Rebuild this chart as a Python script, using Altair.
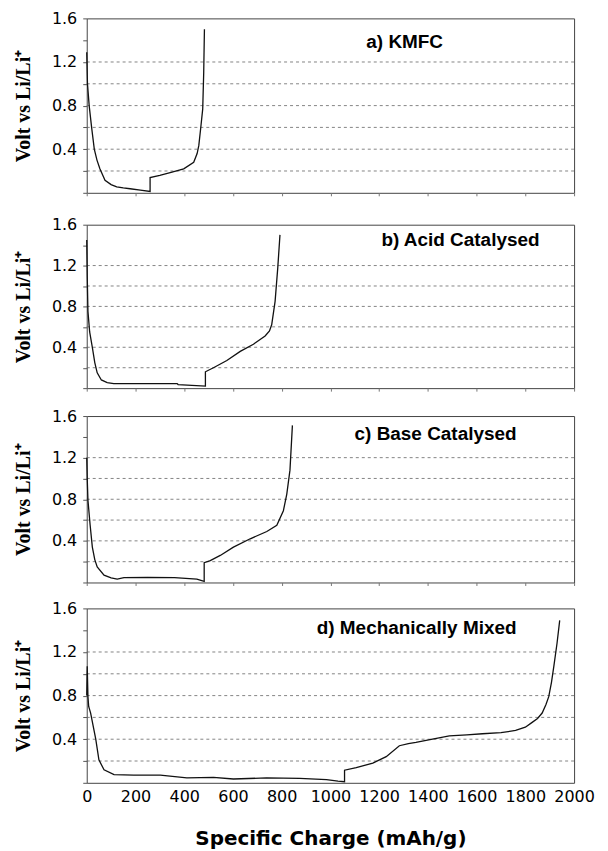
import altair as alt
import pandas as pd

# ---- data ----
a_x = [0, 3, 10, 20, 31, 42, 54, 75, 100, 123, 150, 178, 220, 260, 260, 300, 350, 398, 439, 453, 460, 469, 476, 480, 483]
a_y = [1.29, 1.0, 0.8, 0.6, 0.4, 0.3, 0.22, 0.115, 0.075, 0.055, 0.045, 0.037, 0.025, 0.012, 0.14, 0.16, 0.19, 0.22, 0.28, 0.36, 0.435, 0.62, 0.77, 1.1, 1.5]

b_x = [0, 2, 5, 12, 23, 33, 43, 60, 84, 111, 200, 300, 371, 375, 487, 487, 520, 575, 630, 684, 732, 750, 759, 773, 784, 793]
b_y = [1.45, 1.1, 0.75, 0.55, 0.40, 0.25, 0.15, 0.08, 0.055, 0.045, 0.045, 0.045, 0.045, 0.035, 0.02, 0.16, 0.2, 0.27, 0.36, 0.43, 0.51, 0.56, 0.62, 0.85, 1.18, 1.5]

c_x = [0, 2, 5, 14, 23, 33, 43, 71, 100, 125, 153, 250, 360, 452, 482, 482, 507, 548, 602, 671, 739, 780, 807, 821, 834, 844]
c_y = [1.2, 1.0, 0.79, 0.55, 0.34, 0.22, 0.15, 0.07, 0.045, 0.032, 0.047, 0.048, 0.047, 0.032, 0.01, 0.19, 0.21, 0.26, 0.34, 0.42, 0.49, 0.55, 0.69, 0.85, 1.08, 1.51]

d_x = [0, 2, 5, 8, 16, 37, 50, 71, 112, 193, 302, 411, 520, 602, 738, 874, 984, 1031, 1058, 1058, 1106, 1174, 1229, 1283, 1320, 1351, 1419, 1488, 1560, 1624, 1700, 1760, 1800, 1825, 1850, 1869, 1885, 1896, 1907, 1917, 1930, 1941]
d_y = [0.8, 1.07, 0.79, 0.70, 0.64, 0.40, 0.21, 0.12, 0.075, 0.07, 0.07, 0.046, 0.05, 0.035, 0.045, 0.04, 0.03, 0.015, 0.01, 0.116, 0.14, 0.18, 0.24, 0.34, 0.36, 0.37, 0.40, 0.43, 0.44, 0.45, 0.46, 0.48, 0.51, 0.55, 0.59, 0.64, 0.72, 0.79, 0.92, 1.07, 1.28, 1.49]

panel_labels = ["a) KMFC", "b) Acid Catalysed", "c) Base Catalysed", "d) Mechanically Mixed"]
grid_values = [0.2, 0.4, 0.6, 0.8, 1.0, 1.2]
y_ticks = [0.0, 0.2, 0.4, 0.6, 0.8, 1.0, 1.2, 1.4, 1.6]
x_ticks = [0, 200, 400, 600, 800, 1000, 1200, 1400, 1600, 1800, 2000]

W = 489
heights = [175, 164, 167, 175]
label_pos = [(319, 24), (375, 15), (350, 18), (331, 20)]

Y_TITLE = "Volt vs Li/Li\u207a"


def panel(xs, ys, label, h, lpos, bottom):
    df = pd.DataFrame({"x": xs, "y": ys, "i": list(range(len(xs)))})
    if bottom:
        xaxis = alt.Axis(values=x_ticks, format="d", title="Specific Charge (mAh/g)", grid=False,
                         domain=False, tickSize=0, labelPadding=6, labelFontSize=16,
                         labelFont="DejaVu Sans", labelColor="#000",
                         titleFont="DejaVu Sans", titleFontSize=20, titleFontWeight="bold",
                         titlePadding=24, titleColor="#000", labelFlush=False)
    else:
        xaxis = alt.Axis(values=x_ticks, labels=False, title=None, grid=False,
                         domain=False, tickSize=3, tickColor="#777")
    yaxis = alt.Axis(values=y_ticks, title=Y_TITLE, grid=False, domain=False,
                     tickSize=4, tickColor="#555", labelPadding=6,
                     labelExpr="indexof(['0.4','0.8','1.2','1.6'], format(datum.value, '.1f')) >= 0 ? format(datum.value, '.1f') : ''",
                     labelFont="DejaVu Sans", labelFontSize=16, labelColor="#000",
                     titleFont="Liberation Serif", titleFontSize=20, titleFontWeight="bold",
                     titleColor="#000", titlePadding=18)
    xs_ = alt.Scale(domain=[0, 2000], nice=False)
    ys_ = alt.Scale(domain=[0, 1.6], nice=False)
    grid = alt.Chart(pd.DataFrame({"v": grid_values})).mark_rule(
        strokeDash=[3, 3], color="#666", strokeWidth=0.8
    ).encode(y=alt.Y("v:Q", scale=ys_, axis=yaxis))
    line = alt.Chart(df).mark_line(color="#111", strokeWidth=1.3).encode(
        x=alt.X("x:Q", scale=xs_, axis=xaxis),
        y=alt.Y("y:Q", scale=ys_, axis=yaxis),
        order="i:Q",
    )
    txt = alt.Chart(pd.DataFrame({"t": [label]})).mark_text(
        font="Liberation Sans", fontSize=19, fontWeight="bold", color="#000",
        align="center", baseline="middle"
    ).encode(x=alt.value(lpos[0]), y=alt.value(lpos[1]), text="t:N")
    return alt.layer(grid, line, txt).properties(width=W, height=h)


pa = panel(a_x, a_y, panel_labels[0], heights[0], label_pos[0], False)
pb = panel(b_x, b_y, panel_labels[1], heights[1], label_pos[1], False)
pc = panel(c_x, c_y, panel_labels[2], heights[2], label_pos[2], False)
pd_ = panel(d_x, d_y, panel_labels[3], heights[3], label_pos[3], True)

chart = alt.vconcat(
    pa,
    alt.vconcat(pb, alt.vconcat(pc, pd_, spacing=13), spacing=15),
    spacing=19,
).properties(
    padding={"left": 5, "top": 0, "right": 5, "bottom": 0}
).configure(
    background="white",
    view=alt.ViewConfig(stroke="#444", strokeWidth=1),
)

chart.save("out.html", embed_options={"renderer": "svg", "actions": False})
